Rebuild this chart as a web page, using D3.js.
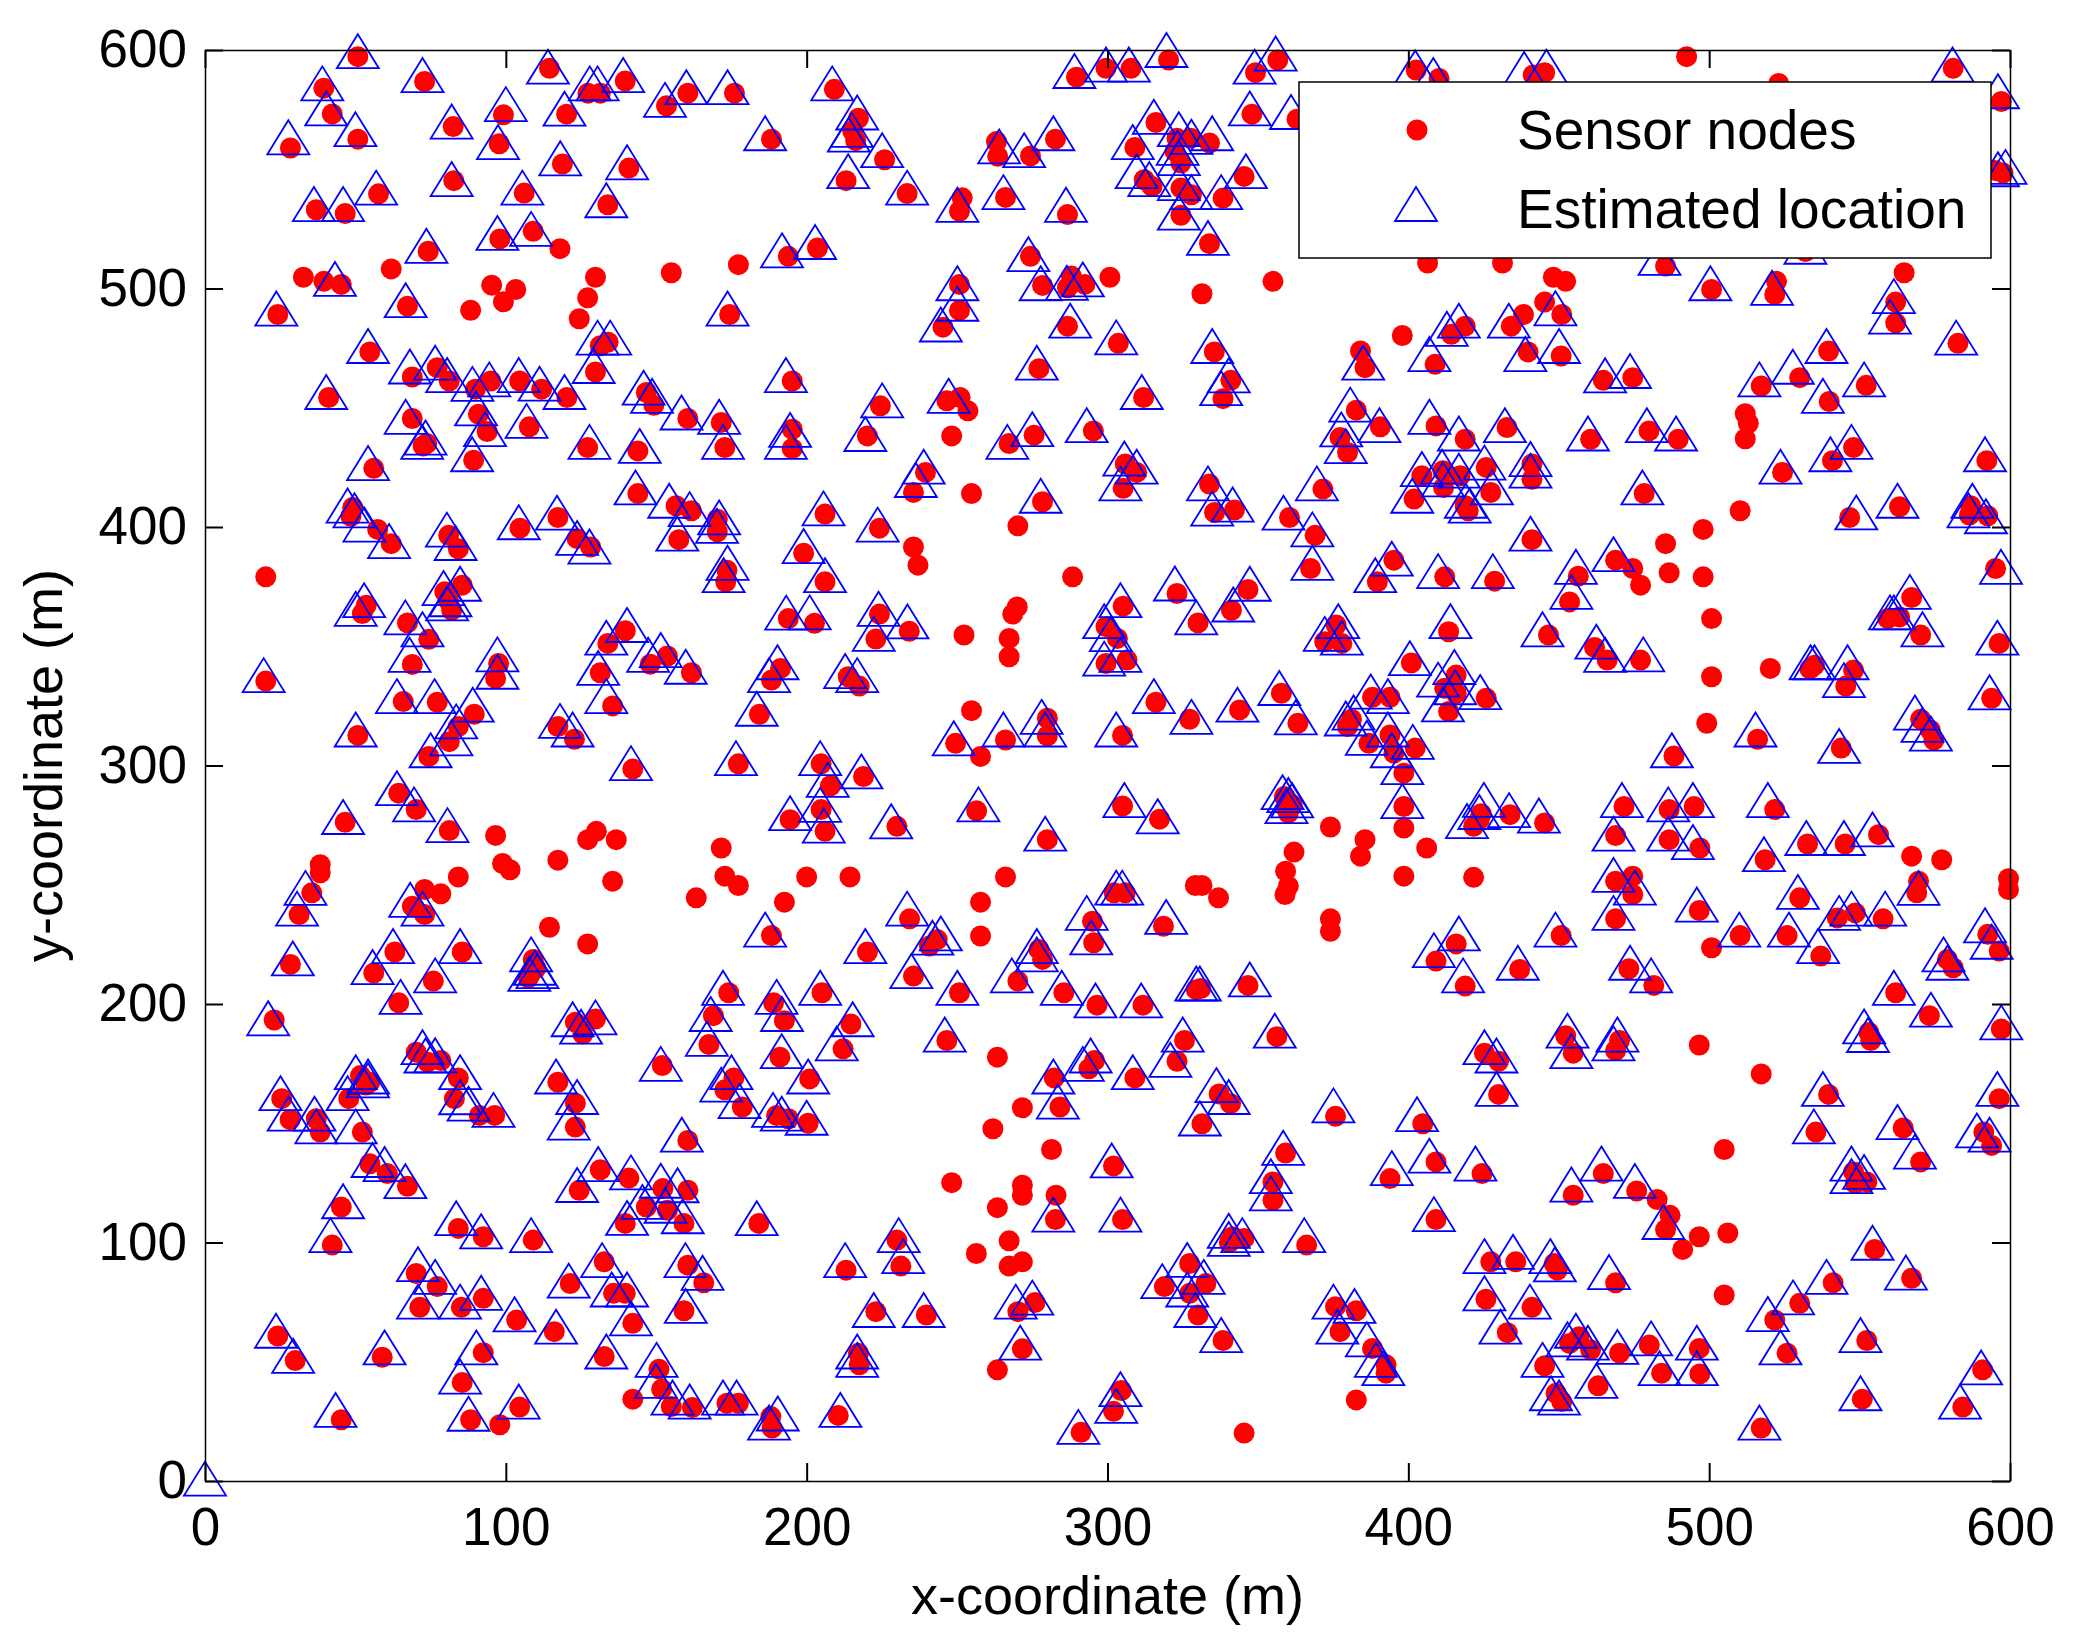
<!DOCTYPE html>
<html>
<head>
<meta charset="utf-8">
<script src="https://cdn.jsdelivr.net/npm/d3@7"></script>
<style>
  body { margin: 0; background: #fff; }
</style>
</head>
<body>
<svg id="chart" width="2081" height="1636"></svg>
<script>
// tick values and labels
const xTicks = [0, 100, 200, 300, 400, 500, 600];
const yTicks = [0, 100, 200, 300, 400, 500, 600];
const xTitle = "x-coordinate (m)";
const yTitle = "y-coordinate (m)";
const legendLabels = ["Sensor nodes", "Estimated location"];

// true node positions (m)
const sensorNodes = [
  [50.8,597.2],[73.0,586.8],[114.5,592.3],[39.5,584],[42.3,573.2],[50.8,562.6],[28.4,558.9],[82.5,567.9],[99.2,572.8],[97.8,560.7],
  [120.2,573.1],[127.3,581.9],[131.4,581.9],[139.7,587],[153.4,576.6],[160.5,581.9],[176,581.9],[188.3,562.6],[118.8,552.2],[140.9,550.5],
  [82.7,545.2],[106.1,540],[57.7,539.7],[37,533],[46.6,531.4],[133.9,535.1],[74.2,515.6],[98,520.8],[109.1,524],[118,516.7],
  [193.9,513.5],[32.7,504.7],[39.5,503],[45.3,501.7],[61.9,508.2],[95.3,501.4],[103.3,499.6],[99.2,494.4],[88.3,490.9],[129.8,504.7],
  [127.2,496.1],[124.4,487.3],[155,506.6],[177.3,510],[24.2,489.1],[67.3,492.6],[174.4,489.1],[131.4,476],[134,477.5],[54.8,473.4],
  [129.8,465],[68.9,462.9],[77.2,466.8],[81.2,461.2],[89.9,457.8],[95,461.2],[104.6,461.2],[111.9,457.8],[120.3,454.3],[41.1,454.3],
  [146.7,456.4],[149.2,451],[195.2,461.2],[160.5,445.5],[171.6,443.8],[172.8,433.3],[195.2,441],[195.2,432.9],[68.9,445.5],[73.7,435],
  [72.5,434],[90.9,447.3],[93.8,440],[107.8,442],[89.3,428],[127.2,433.3],[143.9,431.9],[56.1,424.6],[143.9,414],[156.6,408.9],
  [161.7,406.8],[170.3,403.3],[49.1,408.2],[48.5,404.5],[117.3,404],[104.7,399.5],
  [209.2,583.5],[217.2,571.4],[215.3,566],[216.3,562],[225.9,554],[213.1,545.2],[233.4,539.8],[251.7,538],[250.8,532.4],[266.1,538.2],
  [286.7,531],[263.1,561.6],[263.5,555.4],[274.4,555.6],[282.7,562.6],[289.7,588.6],[299.5,592.3],[307.8,592.3],[320.3,595.8],[349.2,590.5],
  [356.6,595.8],[348,573.1],[363,571],[316.1,569.6],[309.1,559.1],[323.1,563],[327.6,563],[333.9,561],[322.4,557.5],[324.4,552.6],
  [312.2,545.6],[314.8,542.8],[324.4,542.1],[327.9,539.3],[338.4,537.9],[324.4,530.7],[345.4,547],[333.9,518.8],[203.6,517],[274.4,513.5],
  [278.4,501.3],[288,505.2],[286.7,500.3],[292.5,501.7],[300.8,504.7],[331.4,497.8],[355,503],[250.8,501.7],[250.8,490.8],[245.3,483.8],
  [286.7,484.2],[303.6,477],[277.2,466.4],[335.5,473.4],[341,461.5],[338.4,453.8],[384.1,473.8],[385.6,466.8],[398,480.3],[312,454.3],
  [224.5,450.8],[246.6,452.9],[251,454.3],[253.6,448.7],[220.2,438.2],[248.2,438.2],[267.3,435],[275.6,438.5],[295.3,440.3],[305.9,426.4],
  [309.7,422.9],[305.2,416.2],[239.5,422.9],[235.5,414.5],[254.8,414],[278.4,410.6],[206.1,405.4],[333.9,418],[335.6,406.1],[342.2,407.1],
  [371.6,415.9],[360.5,404],[382.7,449],[390.7,442],[377.3,437.5],[379.8,431.2],[270.2,400.5],[224.2,399.5],
  [402.6,591.6],[410.2,588.1],[441.5,589.5],[445.3,590.5],[492.5,597.2],[523.1,586],[581.1,592.3],[597.1,578.4],[597.7,548.4],[595,549.5],
  [406.4,510.7],[431.3,510.7],[485.5,509.4],[532,515.5],[448.2,504.7],[452.3,503],[445.3,494.3],[451,489.1],[438.3,489.1],[434.2,484.2],
  [418.9,484.2],[414.3,480.8],[408.9,468.2],[500.8,499.6],[522.4,503],[521.8,497.5],[564.8,506.6],[562,494.3],[562,485.6],[582.7,477],
  [539.7,473.8],[530.1,462.6],[517.3,459.1],[552.2,459.4],[539.9,452.6],[512,447.5],[513,443.5],[512,437],[409.2,442.4],[418.9,436.8],
  [432.8,441.7],[460.6,436.8],[480,440.3],[489.7,436.8],[524.4,422.9],[541,427.8],[548,433.3],[592.3,427.8],[478.4,414],[510.3,406.8],
  [546.7,404],[563.3,408.5],[586.9,408.9],[592.6,404.7],[586.5,405],[404.5,421.5],[411.5,423.6],[417.2,421.5],[425.9,425],[411.7,416.6],
  [427.4,414.5],[401.9,411.7],[418.9,408.9],[419.9,406.8],[441.1,426.4],[441.1,420],[474.6,462.6],[464.8,461.5],[439.8,473.4],[450.8,471.7],
  [498,399],
  [57.4,399],[61.9,393],[81,396.5],[84.2,390.9],[123.7,395.1],[128.2,391.6],[157.5,394.7],[170.3,398],[173.5,381.9],[173.1,377],
  [199,389],[20.2,379.1],[52.3,363.7],[53.6,367.2],[79.7,372.8],[85.5,375.6],[82,365.1],[81,369],[67.3,359.8],[74.4,352.9],
  [68.9,342.4],[20.2,335.4],[97.6,342.8],[96.6,336.5],[65.9,326.8],[77.2,326.5],[89.5,321.5],[84.2,316.3],[81.2,310],[74.4,303.8],
  [50.8,312.6],[117.3,316.3],[122.8,311],[133.9,351.2],[139.7,356.5],[131.4,338.9],[148,342.5],[153.7,345.9],[161.7,338.9],[135.5,325],
  [191.3,340.7],[188.3,335.8],[184.3,321.5],[193.9,361.6],[142.2,298.5],[177.3,300.7],[64.4,288.4],[70.2,281.5],[46.6,276.2],[81.2,272.7],
  [96.6,270.7],[127.2,268.9],[130.1,272.4],[136.7,268.9],[171.6,265.4],[38.3,258.4],[38.3,255],[35.5,246.6],[31.3,237.5],[84.2,253.3],
  [98.9,258.9],[101.4,256.3],[117.3,260.3],[135.5,251.5],[172.8,253.6],[177.3,249.7],[163.3,244.5],[200,253.3],[192.6,242.7],[73,248],
  [78.4,246.2],[68.9,241],[73,237.5],[114.5,232.2],[127.2,225.2],[188.3,228.7],[28.4,216.6],[63.1,221.8],[85.5,221.8],[56.1,213],
  [75.9,209.6],[109.1,218.7],[108.4,213],[110,215],[107.5,211],[174.1,204.7],[189,200.5],[64.4,200.5],[194.5,277.3],
  [206.1,377],[202.6,359.6],[235.5,391.6],[237,384],[288.4,379.1],[270,366.5],[268.5,363.5],[252.3,354.7],[267.3,353.3],[267.3,345.6],
  [224.2,363.5],[234.1,356.3],[223,353],[213.8,337.2],[217.5,333.3],[204.8,300.7],[207.9,291.5],[218.9,295.4],[204.8,281.5],[206.1,272.4],
  [230,274.5],[256.5,281],[280,268.9],[254.8,323],[249.5,309.3],[257.8,303.8],[266.1,310.7],[280,319.8],[280,312.4],[305,312.6],
  [316.1,326.5],[327.3,319.4],[343.9,323.3],[357.8,330.3],[363.3,317.7],[305.2,366.8],[299.5,358.2],[303.3,353.3],[299.5,342.8],[306.5,344.2],
  [323.1,372.1],[330.1,359.8],[341.2,365.1],[346.7,373.8],[367.5,382.6],[369,396.5],[389.7,377],[395.2,386.1],[376,358.9],[372.2,351.9],
  [377.9,351.2],[401,343],[388.1,328.6],[393.9,328.6],[381.1,319.4],[379.8,316.3],[386.9,309.3],[393.9,312.8],[395.2,305.2],[398.5,296.8],
  [398.5,282.8],[398.5,273.8],[398.5,253.6],[358.8,287],[361.4,283.5],[360.1,280],[359.5,282],[305,283],[317.3,277.5],[374.1,274.2],
  [385.6,268.9],[384.1,262],[362,263.7],[359.2,255.7],[360.1,249.4],[359,245.9],[374.1,235.7],[374.1,230.5],[329.2,249.7],[331.4,249.7],
  [336.9,244.5],[302.2,246.6],[305.9,246.6],[214.4,253.3],[266.1,253.3],[257.8,242.7],[257.8,228.5],[234.2,235.7],[243.4,227],[240.8,224.3],
  [220.2,221.8],[235.5,211.7],[205.1,204.7],[250.8,204.7],[295,234.7],[295.4,225.7],[318.6,232.6],[277.2,222.9],[278.4,218.7],[270.2,209.6],
  [285.5,204.7],[329.5,206],[331,206.5],[346.7,207.8],[296.5,199.5],[311.8,199.5],
  [441.1,394.7],[485.5,393],[412.1,379.1],[428.7,377.3],[456.5,379.4],[468.9,386.1],[474.6,382.6],[477.2,375.6],[453.6,368.6],[486.7,380.8],
  [498,379.1],[500.8,361.6],[413.4,356.1],[446.6,354.7],[461.9,349.5],[466.1,344.2],[477.2,344.2],[500.8,337.2],[520.3,340.7],[499.2,317.7],
  [533.5,340.5],[535,342],[548,340],[545.4,333.3],[567.3,370.4],[559.4,361.6],[563.3,362.3],[570.3,354.7],[595.2,382.6],[596.4,351.2],
  [593.9,328.2],[570.3,319.4],[573.5,314.9],[574.7,310.7],[543.9,307.3],[516.1,311],[488.3,304],[415.9,337.9],[412.1,332.4],[415.9,330.3],
  [425.9,328.2],[413.4,322.6],[402.3,307.3],[406.1,265.4],[421.7,253.1],[424.2,279.8],[433.8,279.4],[445.3,275.9],[421.7,274.5],[423.6,277.3],
  [471.7,282.8],[486.7,281.5],[495,282.8],[521.8,281.5],[468.9,270.6],[486.7,268.9],[496.9,265.4],[518.6,260.5],[532.7,267.1],[545.2,267.1],
  [556.3,271],[567.3,262],[577.3,260.5],[569.6,251.5],[569,246.6],[599.5,252.5],[599.5,248],[468.9,251.5],[474.6,253.6],[474.6,245.9],
  [468.9,235.7],[496.7,239.2],[530.1,244.5],[542.6,236.1],[548.6,238.2],[557.8,235.7],[510.3,228.7],[525.9,228.7],[537.1,220.1],[500.8,223.6],
  [450.8,228.7],[415.9,225.2],[409.2,218],[418.9,207.5],[437,214.5],[473.3,214.8],[481.6,207.8],[562,204.7],[592.6,229.2],[596.4,222.2],
  [579.2,218.7],[581.1,215.2],
  [23,193.3],[123.1,192.3],[129.8,193.7],[125.6,187.4],[169,195.1],[192.6,193],[167.5,183],[191.1,177.7],[152,174.2],[175.8,169],
  [172.8,164],[178.6,156.8],[190,153.3],[193.9,151.9],[200.5,150],[201,168.6],[160.5,142.8],[25.5,160.3],[28.3,151.5],[37,151.9],
  [38.3,146.3],[52.3,146.3],[47.8,160.3],[51.7,170],[54.8,167.2],[53.5,166],[54.8,133],[60.6,128.9],[67.3,123.6],[45.3,114.9],
  [42.3,98.9],[70.2,179.8],[74,175.6],[78.4,176.3],[84.2,169],[82.9,160.3],[91.2,153.3],[96.3,153.3],[117.3,167.2],[123.1,158.4],
  [123.1,148.4],[131.4,130.5],[140.9,127],[124.4,121.9],[152.2,122.6],[160.5,121.9],[146.7,114.9],[153.7,113.5],[139.7,108],[159.2,108],
  [184.1,108],[84.2,105.9],[92.5,102.4],[109.1,101],[70.2,87],[77.2,81.5],[71.4,72.8],[85.2,72.8],[92.5,76.6],[103.6,67.5],
  [116.1,62.6],[121.4,82.8],[132.7,91.9],[135.8,78.7],[139.7,78.7],[142.2,66.1],[160.5,90.5],[165.8,83.1],[159.2,71.4],[24.2,60.8],
  [30,50.5],[58.9,51.9],[92.5,53.8],[85.5,41.3],[132.7,52.2],[150.9,46.9],[151.8,38.5],[142.2,34.3],[155,31.2],[162,30.8],
  [173.5,32.6],[177.3,32.6],[188.1,27],[188.5,22.2],[104.6,31],[88.3,25.7],[98,23.6],[45.3,25.7],
  [214.7,191.6],[212.1,181.2],[246.6,184.7],[263.4,177.7],[282.3,169],[293.8,172.8],[295.7,176.3],[309.1,169],[325.6,184.7],[323.1,176],
  [356.3,186.3],[284.2,156.8],[271.7,156.5],[261.9,147.7],[281.4,139],[337.1,162.3],[340.9,158.2],[331.4,149.8],[375.8,152.9],[302,132.1],
  [359.2,137.5],[355,125.4],[355,117.7],[393.9,126.8],[248.2,125.1],[271.7,124],[271.7,119.8],[282.9,119.8],[263.4,114.6],[282.7,109.6],
  [305,109.6],[230,101],[231.3,90.1],[213.1,88.4],[267.3,100.7],[256.4,95.4],[267.3,90.1],[271.7,91.9],[223,71],[239.8,69.6],
  [270.2,71],[275.9,74.8],[271.7,55.4],[263.4,46.6],[217.2,53.6],[217.5,48.7],[210.5,27.5],[304.6,37.9],[302,29.2],[291.2,20.4],
  [345.4,20.1],[341.6,102.4],[345.4,101.7],[340.5,100],[366.2,98.9],[327.3,91.2],[318.9,81.5],[332.7,82.8],[327.3,78.7],[330.1,69.6],
  [338.4,58.9],[375.8,73.1],[382.7,71.4],[377.3,62.6],[388.1,55.6],[392.6,48.7],[392.6,45.2],[382.7,34],
  [425.3,179.4],[430,176],[452.3,186.7],[454.8,179.4],[470.2,184.7],[468.9,180.5],[496.7,182.8],[517.3,170.7],[553.1,188.1],[553.7,184.7],
  [573.2,195.1],[597.1,189.5],[430,162.1],[404.8,149.8],[409.2,133.8],[424.5,128.9],[409.2,109.6],[539.7,162.1],[535.5,146.3],[564.5,148],
  [570.3,133.8],[596.4,160.3],[591.3,146.3],[593.9,140.7],[548,129.6],[552.4,125.4],[548.6,124.7],[454.8,119.8],[464.8,128.9],[475.9,121.6],
  [482.7,118],[487,111.4],[485.5,105.4],[496.7,102.4],[491.2,97.1],[506.2,104],[505,139],[505,78],[427.4,91.9],[435.7,91.9],
  [448.5,91.2],[449.5,88.4],[468.9,83.1],[425.8,76.2],[441.1,72.8],[432.9,62.2],[453.6,57.7],[456.8,60.5],[460.6,55],[445.3,48.3],
  [470.2,53.6],[480.1,57],[496.7,55.6],[484.2,45.2],[496.9,44.9],[463.1,39.9],[449.1,36.8],[451,33.3],[521.8,67.5],[530.1,74.5],
  [541.2,83.1],[555,97.1],[567.3,85],[525.9,53.6],[552.4,58.9],[550.9,34.3],[517.3,22.2],[590.9,46.6],[584.3,31]
];

// estimated positions (m); nodes that were not localised have no triangle
const estimatedLocations = [
  [50.8,599.5],[72.3,589.5],[114,593],[39,586],[40.3,575.5],[50,566.8],[27.7,563.4],[82,570],[100,577.3],[97.4,561.4],
  [119.5,575.4],[127.9,586],[130.5,586],[139,589.5],[152.9,579.1],[160,584.4],[173.7,584.4],[186.2,565.1],[118.1,554.6],[140.3,552.9],
  [82,545.9],[105.5,542.3],[56.9,542.3],[36.2,535.4],[45.9,535.4],[133.4,537],[73.6,517.9],[97.2,523.3],[108.4,525],
  [191.8,516],[43.2,504],[23.7,491.6],[66.7,495.1],[173.7,491.6],[130.5,479.4],[134.7,479.4],[54.2,475.9],
  [129.2,467.5],[68.1,467.3],[76.5,468.9],[80.5,463.7],[88.9,460],[94.5,461.9],[104.3,463.7],[111.2,460.1],[119.5,456.6],[40.3,456.6],
  [145.8,458.4],[148.6,455],[193.1,463.7],[158.4,448],[170.9,446.2],[172.2,435.7],[194.5,440.7],[193.1,435.7],[66.7,446.2],[73.3,437.5],
  [72.2,435.7],[90.1,449.7],[93.1,441],[106.9,444.5],[88.8,430.5],[127.8,435.7],[144.5,434],[54.2,426.8],[143.1,416.6],[154.3,411],
  [161.1,407.5],[170.9,404],[47.4,409],[49.7,407],[117,406],[104.3,402],
  [208.5,586],[216.8,573.8],[215,566.5],[214,564.5],[225.1,558],[213.8,549.2],[233.4,542.3],[250.1,535.1],[265.4,540.4],
  [286.2,535.1],[264,559.6],[272.3,558],[282,565.1],[289,591.2],[299.5,593.9],[307.1,593.9],[319.6,600],[348.9,593],
  [355.9,598.5],[347.3,575.5],[361,574],[315.4,572],[308.4,561.4],[323.7,566.8],[327.9,563.6],[334.8,565.1],[323.3,559],[323.7,554.7],
  [309.7,549.2],[313.9,545.9],[323.7,544.2],[327.9,540.4],[337.8,540.4],[323.7,531.8],[346,549.2],[333.4,521.2],[202.8,519.5],[273.7,514.4],
  [277.8,502.2],[286.5,502.4],[291.8,503.8],[250.1,502.2],[250.1,493.6],[244.6,484.9],
  [287.6,486.5],[302.9,479.5],[276.5,468.9],[334.8,475.9],[340.3,463.6],[337.8,458.2],[385,468.9],[311.4,456.6],
  [225.1,453.1],[247.2,455],[219.5,439],[266.7,435.7],[275,441],[293.1,442.7],[305.6,428.7],
  [309.7,425.3],[304.3,418.3],[238.9,425.3],[236.3,419.7],[277.8,413.1],[205.6,407.8],[333.4,418.3],[334.8,407.7],[341.6,409.4],
  [369.6,418.3],[358.5,406],[380.7,451.3],[390.4,442.7],[377.7,440.9],[379.2,433.9],[223.6,401],
  [402.3,592.7],[408.3,589.5],[438.5,592],[445.9,593],[580.9,593.9],[596,582.7],[598.5,551],[596,550],
  [483.5,512.8],[532,517.5],[448.9,491.7],[433.4,486.5],
  [416.8,486.5],[412.8,483.1],[407,472.5],[500.4,502.2],[520.9,500.3],[561.4,496.8],[560.1,488.2],[582.1,479.4],
  [539,475.9],[527.8,467.2],[516.7,461.9],[551.5,461.9],[537.8,455],[407,446.2],[416.8,439.2],
  [432.1,442.7],[459.7,439.2],[479.3,442.7],[489,439.2],[523.7,425.3],[540.3,430.5],[547.3,435.7],[591.7,430.5],[477.8,416.6],
  [548.9,406.1],[562.6,411],[587.5,411],[592,404.5],[586.2,407],[404.5,424.3],[411.2,425.3],[416.8,423.6],[425.3,427],[411.5,420],
  [427.8,416.6],[401.3,413.1],[419.1,411],[420.4,409],[440.6,428.5],[440.6,423.6],[473.7,465.4],[465.4,463.6],[438.9,472.5],[450.1,475.9],
  [53,401],[61.2,394.1],[80.4,398.9],[83.3,393.3],[123.7,395.4],[127.8,391.8],[157,397.2],[170.2,400.5],[173.7,385],[172.4,379.8],
  [199,392],[50.1,365.7],[52.9,369.3],[79.3,374.4],[84.8,376.2],[81.6,369.7],[80.5,368],[66.6,362.1],[72.3,357.1],
  [68,346.4],[19.5,337.9],[97.2,346.6],[97.2,339.3],[63.8,329.1],[76.3,329.1],[89,325.5],[83.5,318.5],[81.9,311.4],[75,306.4],
  [50.1,315.1],[118,318.7],[122.2,315.1],[133.4,353.6],[140.3,358.9],[130.7,340.9],[147.3,346.4],[151.5,348.4],[159.8,341.4],[133.4,329.1],
  [190.3,343.3],[187.5,337.9],[183.4,323.8],[193.2,364.1],[141.6,301],[176.5,303.1],[63.8,290.5],[69.5,283.7],[45.9,278.4],[80.6,275],
  [33.4,248.7],[30.6,240],
  [68.2,243.7],[72.3,240],[186.2,231.2],[29.2,219.1],[62.5,224.3],[84.8,224.3],[55.7,215.5],
  [76.5,212],[108.4,220.8],[109.7,215.2],[110.5,213.8],[107.8,212.6],[172.2,206.8],[190,203],[65,203],[194.5,280],
  [206.1,379.8],[201,364.2],
  [223.9,365.7],[233.5,360.4],[222.3,355.2],[212.8,339.6],[216.8,337.9],[204.5,303.1],[207,294],[218.2,297.5],[204.5,283.5],[205.7,274.8],
  [228.1,276.6],[257.1,283.7],[279.3,271.4],[248.9,311.4],[265.4,315.1],[278.1,320.4],[279.3,315.1],[302.9,315.1],
  [315.4,329.1],[327.9,320.4],[343.2,325.5],[357.1,332.5],[362.6,320.2],[304.3,369.3],[298.9,360.5],[301.1,355.1],[298.9,344.8],[304.3,346.4],
  [322.4,376.3],[329.5,362.1],[341.8,367.5],[347.3,376.2],[368.1,385],[368.1,399],[389,379.8],[394.5,386.7],[376.7,360.5],[372.2,355.2],
  [377.9,353.6],[400.5,345],[387.5,331],[393.2,329.1],[381.8,322.2],[379.2,319.7],[386.2,311.6],[393.2,315.1],[394.5,306.4],[398,299.3],
  [398,285.1],[358.2,288.8],[360.1,287.6],[361.4,285.4],[359.5,283],[305.6,285.5],[316.7,278.7],
  [302.9,248.8],[304.9,248.8],[233.4,240],[244.6,229.6],[241.8,227.8],
  [219.5,224.3],[234.8,213.8],[204.5,206.8],[250.1,206.8],[293.1,238.2],[294.6,227.9],[319.5,236.5],[276.5,224.3],[276.5,220.8],[268.2,212],
  [284.8,206.8],[329.5,208.6],[330.7,208.6],[347.3,210.3],[296,201.5],[311.2,201.5],
  [440.6,397.2],[409.9,381.5],[428.1,381.5],[455.7,383.3],[468.2,388.6],[454.2,372.8],
  [414,360.5],[444.6,357.1],[462.5,351.9],[465.4,346.4],[478.1,346.6],
  [533.7,343.3],[535,343.3],[546,343.3],[544.8,335.8],[566.7,372.8],[560.1,364.2],[561.4,364.2],[570.9,357.1],[597,383.3],[595.8,353.6],
  [593.2,330.7],[568.4,322.2],[570.9,317],[573.7,313.4],[543.2,308.2],[515.4,315.1],[487.6,306.4],[415.3,341.3],[409.9,336],[415.6,332.8],
  [423.9,330.8],[411.5,325.6],[401.5,309.9],[425.1,285.6],[433.5,281.3],[443.4,279],[419.5,276.7],[423.6,280.5],
  [471,285.5],[486.4,283.7],[494.6,285.5],[519.5,285.5],[468.2,271.4],[486.4,271.4],[494.6,267.9],[518.2,262.8],[532.3,269.6],[544.8,269.6],
  [554.3,273.2],[569.6,248.7],[468.2,254.1],[475.3,248.8],
  [468.2,238.2],[495.9,241.7],[529.5,247],[543.2,238.2],[547.3,240],[558.5,240],[510,231.2],[526.5,231.2],[536.2,224.3],
  [448.9,231.2],[416.8,229.6],[408.5,222.6],[418.2,212],[436.4,217.3],[473.7,217.3],[480.7,212],[561.4,206.8],[591.7,233],[593.9,226.1],
  [577.9,220.8],[579.2,217.3],
  [21,194],[122.2,193.6],[129.8,194.4],[125,190.5],[168.1,195.8],[191.8,195.8],[166.8,185.4],[191.7,180.2],[151.5,174.9],[175,171.4],
  [171.6,166.2],[177.7,159.3],[188.8,155.6],[191.7,154],[200,152.3],[200.5,169.6],[158.5,145.2],[25.1,162.6],[27.8,154],[36.4,154],
  [37,148.7],[50.1,148.7],[47.4,162.6],[50.1,171.4],[54.2,169.6],[54.2,168],[55.7,134.6],[59.7,132.9],[66.6,125.7],[45.9,117.3],
  [41.7,103.1],[72.3,181.9],[73.3,178.4],[76.5,178.5],[84.8,171.4],[84.8,160.9],[87.6,158.2],[95.9,155.6],[116.7,169.6],[123.7,161],
  [120.9,150.3],[130.7,132.9],[141.6,129.4],[123.7,124.1],[151.5,125.9],[157.1,124],[145.4,117],[153.1,115.4],[140.3,110.3],[158.8,111],
  [183.4,110.2],[83.5,110.2],[91.8,104.7],[108.4,103.1],[70.8,90.9],[76.5,85.6],[70.8,75.2],[84.8,75.2],[91.8,78.9],[102.9,69.9],
  [116.7,64.7],[120.9,84],[132,92.6],[135.2,80.3],[140.3,80.3],[141.6,68.2],[159.7,92.6],[165.4,87.3],[159.8,73.4],[23.6,63],
  [29.3,52.5],[59.7,56],[90.2,56],[84.8,43.8],[133.4,54.3],[150.1,50.8],[149.9,42],[155.4,35],[161.1,33.3],
  [172.2,35],[176.7,35],[190.4,28.3],[187.5,24.5],[104.3,33.3],[87.6,28.2],[43.4,29.8],
  [215.3,193.6],[210,183.5],[245.9,187.2],[282,169.6],[291.8,174.9],[294.4,178.4],[308.4,171.4],[325,187.2],[320.9,176.6],
  [355.6,188.8],[283.5,159.1],[336.2,166],[340.3,161],[330.7,152],[375.1,157.5],[301.4,134.4],
  [358.4,139.7],[354.3,127.8],[354.3,120.6],[394.5,131.2],[282,111.7],
  [304.3,111.7],[230.6,103.1],[232.1,94.3],[212.8,92.6],[222.3,71.7],[238.9,71.7],
  [269.5,75.2],[275,76.9],[271,58],[216.8,54.3],[216.8,50.8],[211.2,29.8],[304.3,38.5],[302.9,31.5],[290.3,22.7],
  [340.3,104.9],[344.8,103.1],[340.3,101.5],[365.4,103.1],[326.5,92.7],[318.2,83.8],[332,85.6],[326.5,80.3],[329.2,71.7],
  [337.8,61.2],[375.1,75.2],[382.1,73.4],[376.4,64.7],[386.2,59.4],[389.2,50.8],[391.7,47.3],
  [425.3,181.9],[429.3,178.4],[452.9,188.8],[454.2,180.2],[469.5,187.2],[468.2,183.5],[551.5,190.6],[552.8,187],
  [573.7,197.6],[597.1,192.3],[429.3,164.4],[402.9,153.8],[407,136.4],[422.3,133.1],[408.5,111.9],[537.8,164.4],[534.8,148.7],[562.6,150.5],
  [568.4,138.1],[595.8,164.4],[589,147],[593.2,145.2],[547.3,133.1],[551.5,129.6],[547.3,127.8],[454.2,124.3],[464.2,133.1],[475.3,125.8],
  [484.8,108.6],[425.3,94.3],[434.8,96.1],
  [447.2,94.3],[448.7,90.8],[466.7,87.6],[425.3,78.7],[440.4,75.2],[430.6,64.7],[452.9,59.4],[455.7,63],[459.7,58],[444.6,50.8],
  [469.5,56.2],[480.7,59.8],[495.9,58],[483.5,47.3],[495.9,47.3],[462.5,42],[447.4,36.8],[450.1,35],[519.5,70],[527.9,77],
  [539,85.6],[554.3,99.9],[565.4,87.4],[523.7,56],[550.3,61.2],[550.3,36.8],[516.7,24.5],[590.4,47.6],[583.4,33.3],
  [0,1]
];

const FONT = '"Liberation Sans", Arial, Helvetica, sans-serif';
// isosceles triangle like the MATLAB '^' marker, centred on its box
const TRIANGLE = 'M0,-17L21,17L-21,17Z';

class ScatterChart {
  constructor() {
    this.svg = d3.select('#chart');
    this.left = 205;
    this.right = 2010;
    this.top = 50;
    this.bottom = 1481;

    this.x = d3.scaleLinear().domain([0, 600]).range([this.left, this.right]);
    this.y = d3.scaleLinear().domain([0, 600]).range([this.bottom, this.top]);
  }

  drawAxes() {
    let svg = this.svg;
    let x = this.x;
    let y = this.y;

    let styleAxis = function (g, labels) {
      g.attr('font-family', FONT).attr('font-size', 53);
      g.select('.domain').attr('stroke', '#000').attr('stroke-width', 1.5);
      g.selectAll('.tick line').attr('stroke', '#000').attr('stroke-width', 2);
      if (labels) g.selectAll('.tick text').attr('fill', '#000');
    };

    svg.append('g')
      .attr('transform', `translate(0,${this.bottom})`)
      .call(d3.axisBottom(x).tickValues(xTicks).tickSizeInner(-18).tickSizeOuter(0).tickPadding(26))
      .call(g => styleAxis(g, true));

    svg.append('g')
      .attr('transform', `translate(${this.left},0)`)
      .call(d3.axisLeft(y).tickValues(yTicks).tickSizeInner(-18).tickSizeOuter(0).tickPadding(18))
      .call(g => styleAxis(g, true));

    // box: top and right sides carry ticks only
    svg.append('g')
      .attr('transform', `translate(0,${this.top})`)
      .call(d3.axisTop(x).tickValues(xTicks).tickSizeInner(-18).tickSizeOuter(0).tickFormat(''))
      .call(g => styleAxis(g, false));

    svg.append('g')
      .attr('transform', `translate(${this.right},0)`)
      .call(d3.axisRight(y).tickValues(yTicks).tickSizeInner(-18).tickSizeOuter(0).tickFormat(''))
      .call(g => styleAxis(g, false));

    svg.append('text')
      .attr('x', (this.left + this.right) / 2)
      .attr('y', 1614)
      .attr('text-anchor', 'middle')
      .attr('font-family', FONT)
      .attr('font-size', 54)
      .text(xTitle);

    svg.append('text')
      .attr('transform', `translate(62,${(this.top + this.bottom) / 2}) rotate(-90)`)
      .attr('text-anchor', 'middle')
      .attr('font-family', FONT)
      .attr('font-size', 54)
      .text(yTitle);
  }

  drawPoints() {
    let x = this.x;
    let y = this.y;

    this.svg.append('g')
      .selectAll('circle')
      .data(sensorNodes)
      .enter()
      .append('circle')
      .attr('cx', d => x(d[0]))
      .attr('cy', d => y(d[1]))
      .attr('r', 10.5)
      .attr('fill', '#FF0000');

    this.svg.append('g')
      .selectAll('path')
      .data(estimatedLocations)
      .enter()
      .append('path')
      .attr('d', TRIANGLE)
      .attr('transform', d => `translate(${x(d[0])},${y(d[1])})`)
      .attr('fill', 'none')
      .attr('stroke', '#0000FF')
      .attr('stroke-width', 1.8);
  }

  drawLegend() {
    let legend = this.svg.append('g');

    legend.append('rect')
      .attr('x', 1299)
      .attr('y', 82)
      .attr('width', 692)
      .attr('height', 176)
      .attr('fill', '#fff')
      .attr('stroke', '#000')
      .attr('stroke-width', 1.5);

    legend.append('circle')
      .attr('cx', 1417)
      .attr('cy', 130)
      .attr('r', 10.5)
      .attr('fill', '#FF0000');

    legend.append('path')
      .attr('d', TRIANGLE)
      .attr('transform', 'translate(1416,204)')
      .attr('fill', 'none')
      .attr('stroke', '#0000FF')
      .attr('stroke-width', 1.8);

    legend.selectAll('.legend_text')
      .data(legendLabels)
      .enter()
      .append('text')
      .attr('class', 'legend_text')
      .attr('x', 1517)
      .attr('y', (d, i) => 149 + i * 79)
      .attr('font-family', FONT)
      .attr('font-size', 55)
      .attr('fill', '#000')
      .text(d => d);
  }
}

let chart = new ScatterChart();
chart.drawPoints();
chart.drawAxes();
chart.drawLegend();
</script>
</body>
</html>
